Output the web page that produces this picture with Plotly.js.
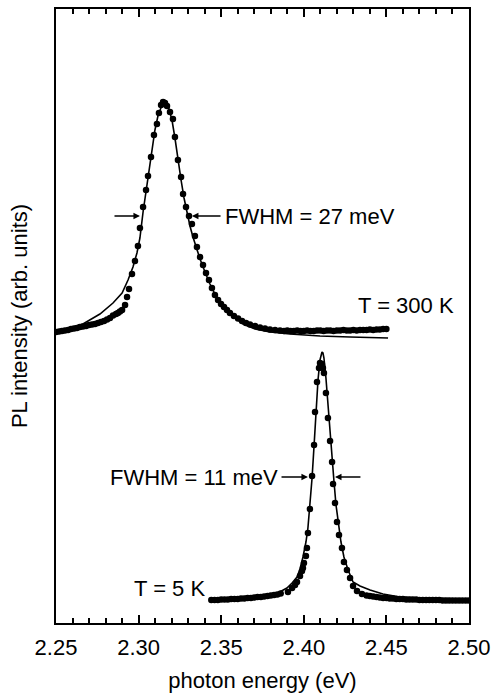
<!DOCTYPE html>
<html>
<head>
<meta charset="utf-8">
<script src="https://cdn.plot.ly/plotly-3.0.1.min.js"></script>
<style>html,body{margin:0;padding:0;background:#fff;}#chart{width:492px;height:693px;}</style>
</head>
<body>
<div id="chart"></div>
<script>
// photon energy (eV) and PL intensity (arb. units)
const e300 = [2.2500,2.2518,2.2536,2.2554,2.2573,2.2591,2.2609,2.2627,2.2645,2.2663,2.2682,2.2700,2.2718,2.2736,2.2754,2.2772,2.2791,2.2809,2.2827,2.2845,2.2863,2.2875,2.2887,2.2900,2.2918,2.2930,2.2942,2.2960,2.2978,2.2996,2.3008,2.3027,2.3045,2.3057,2.3075,2.3093,2.3111,2.3123,2.3136,2.3148,2.3160,2.3172,2.3190,2.3208,2.3220,2.3238,2.3257,2.3269,2.3287,2.3305,2.3323,2.3341,2.3353,2.3372,2.3390,2.3408,2.3426,2.3444,2.3462,2.3481,2.3499,2.3517,2.3535,2.3553,2.3577,2.3602,2.3626,2.3650,2.3674,2.3705,2.3735,2.3765,2.3795,2.3826,2.3856,2.388,2.390,2.392,2.394,2.396,2.398,2.400,2.402,2.404,2.406,2.408,2.410,2.412,2.414,2.416,2.418,2.420,2.422,2.424,2.426,2.428,2.430,2.432,2.434,2.436,2.438,2.440,2.442,2.444,2.446,2.448,2.450];
const i300 = [291,291.5,292,292.5,293,294,294.5,295,296,296.5,297,298,298.5,299,300,301,302,303.5,305,307.5,309,310,311.5,313,318,326,334,349,362,377,395,416,433,447,466,488,499,510,518,521,520,517,511,504,486,463,446,429,416,407,399,387,376,366,358,350,343,335,328,323,319,316,313,310,307,304.5,302,300,298.5,297,295.5,294.5,293.5,293,292.5,292,292.5,292,292,292.5,292,292,292.5,292,292,292.5,292.5,292,292.5,292.5,292,292.5,292.5,293,292.5,292.5,293,292.5,293,293,293,293.5,293,293.5,293.5,294,294];

const e300fit = [2.2500,2.2585,2.2663,2.2766,2.2845,2.2900,2.2936,2.2966,2.2990,2.3008,2.3027,2.3045,2.3063,2.3081,2.3099,2.3117,2.3136,2.3148,2.3160,2.3172,2.3184,2.3202,2.3220,2.3238,2.3257,2.3275,2.3293,2.3311,2.3329,2.3347,2.3372,2.3402,2.3432,2.3462,2.3511,2.3571,2.3632,2.3705,2.3795,2.3916,2.4098,2.4280,2.4510];
const i300fit = [292,295,299,309,320,330,343,356,370,385,411,431,455,475,493,507,517,521,522,520,514,503,485,463,443,425,410,397,386,376,364,351,339,329,317,307,299,294,291,289,287,286,285];

const e5 = [2.344,2.346,2.348,2.350,2.352,2.354,2.356,2.358,2.360,2.362,2.364,2.366,2.368,2.370,2.372,2.374,2.376,2.378,2.380,2.382,2.384,2.386,2.3904,2.3929,2.3947,2.3959,2.3977,2.3989,2.3995,2.4001,2.4013,2.4019,2.4025,2.4037,2.4050,2.4062,2.4068,2.4080,2.4092,2.4098,2.4110,2.4116,2.4122,2.4134,2.4146,2.4159,2.4171,2.4177,2.4189,2.4201,2.4213,2.4231,2.4243,2.4261,2.4280,2.4298,2.4322,2.4352,2.438,2.440,2.442,2.444,2.446,2.448,2.450,2.452,2.454,2.456,2.458,2.460,2.462,2.464,2.466,2.468,2.470,2.472,2.474,2.476,2.478,2.480,2.482,2.484,2.486,2.488,2.490,2.492,2.494,2.496,2.498,2.500];
const i5 = [23,23,23,23.5,23.5,23.5,24,24,24,24.5,24.5,25,25,25.5,26,26,26.5,27,27.5,28,28.5,29.5,31,35,38,41,47,52,55,60,67,75,90,114,147,178,211,241,255,260,259,255,250,230,205,182,161,139,120,101,88,75,61,53,45,37,32,29,27.5,27,26.5,26,25.5,25,25,24.5,24.5,24,24,24,23.5,23.5,23.5,23.5,23,23,23,23,23,23,23,22.5,22.5,22.5,22.5,22.5,22.5,22.5,22.5,22.5];

const e5fit = [2.3432,2.3614,2.3735,2.3826,2.3898,2.3929,2.3959,2.3977,2.3995,2.4013,2.4025,2.4037,2.4050,2.4062,2.4074,2.4086,2.4098,2.4110,2.4116,2.4122,2.4134,2.4146,2.4159,2.4171,2.4183,2.4195,2.4207,2.4225,2.4243,2.4268,2.4298,2.4340,2.4401,2.4479,2.4582,2.4703,2.5000];
const i5fit = [24,26,27.5,28.5,35,40,46,54,66,81,95,117,145,177,211,243,263,271,270,265,245,218,191,165,141,118,101,81,66,53,41,37,33,29,26,25,24];

const xTickVals = [2.25,2.30,2.35,2.40,2.45,2.50];
const xTickText = ['2.25','2.30','2.35','2.40','2.45','2.50'];

const FONT = 'Liberation Sans, Arial, sans-serif';
const FS = 22;

const traces = [
  {x: e300fit, y: i300fit, mode: 'lines', line: {color: '#000', width: 1.6}, hoverinfo: 'skip'},
  {x: e300, y: i300, mode: 'markers', marker: {color: '#000', size: 6.5}},
  {x: e5fit, y: i5fit, mode: 'lines', line: {color: '#000', width: 1.6}, hoverinfo: 'skip'},
  {x: e5, y: i5, mode: 'markers', marker: {color: '#000', size: 6.5}}
];

function arrow(xTip, xTail, y) {
  return {x: xTip, y: y, ax: xTail, ay: y, xref: 'x', yref: 'y', axref: 'x', ayref: 'y',
    text: '', showarrow: true, arrowhead: 2, arrowsize: 1, arrowwidth: 1.3, arrowcolor: '#000', standoff: 0, startstandoff: 0};
}
function label(txt, x, y, anchor) {
  return {x: x, y: y, xref: 'x', yref: 'y', text: txt, showarrow: false, xanchor: anchor, yanchor: 'middle',
    font: {family: FONT, size: FS, color: '#000'}};
}

const layout = {
  width: 492, height: 693,
  margin: {l: 56, r: 23, t: 9, b: 70},
  paper_bgcolor: '#fff', plot_bgcolor: '#fff',
  showlegend: false,
  xaxis: {
    range: [2.25, 2.50], tickvals: xTickVals, ticktext: xTickText,
    ticks: 'inside', ticklen: 8, tickwidth: 2, tickcolor: '#000',
    minor: {dtick: 0.01, tick0: 2.25, ticks: 'inside', ticklen: 5, tickwidth: 2, tickcolor: '#000', showgrid: false},
    showline: true, linecolor: '#000', linewidth: 2, mirror: 'ticks',
    showgrid: false, zeroline: false,
    ticklabelstandoff: 4,
    tickfont: {family: FONT, size: FS, color: '#000'},
    title: {text: 'photon energy (eV)', font: {family: FONT, size: FS, color: '#000'}, standoff: 16}
  },
  yaxis: {
    range: [0, 614], showticklabels: false, ticks: '',
    showline: true, linecolor: '#000', linewidth: 2, mirror: true,
    showgrid: false, zeroline: false,
    title: {text: 'PL intensity (arb. units)', font: {family: FONT, size: FS, color: '#000'}, standoff: 20}
  },
  annotations: [
    arrow(2.3008, 2.2845, 407),
    arrow(2.3323, 2.3505, 407),
    label('FWHM = 27 meV', 2.3509, 407, 'left'),
    arrow(2.4025, 2.3856, 146),
    arrow(2.4189, 2.4352, 146),
    label('FWHM = 11 meV', 2.3854, 146, 'right'),
    label('T = 300 K', 2.4316, 318, 'left'),
    label('T = 5 K', 2.2960, 35, 'left')
  ]
};

Plotly.newPlot('chart', traces, layout, {staticPlot: true, displayModeBar: false});
</script>
</body>
</html>
